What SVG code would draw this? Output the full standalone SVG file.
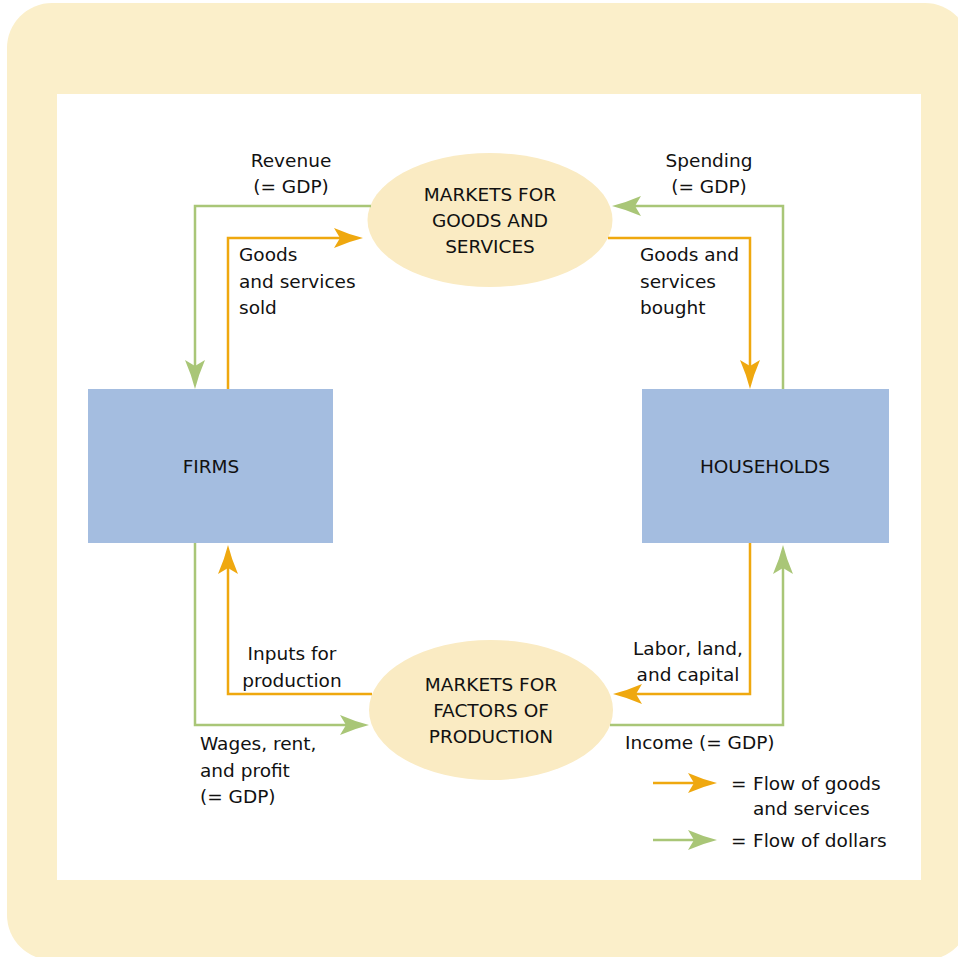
<svg xmlns="http://www.w3.org/2000/svg" width="958" height="957" viewBox="0 0 958 957">
<style>
text{font-family:"DejaVu Sans","Liberation Sans",sans-serif;font-size:18.5px;fill:#111111}
.c{text-anchor:middle}
.box{fill:#A4BDE0}
.ell{fill:#FAEBC3}
.o{fill:none;stroke:#EFA80F;stroke-width:2.5}
.g{fill:none;stroke:#A9C677;stroke-width:2.5}
</style>
<defs>
<marker id="ao" viewBox="-30 -11 32 22" markerWidth="32" markerHeight="22" refX="-22" refY="0" markerUnits="userSpaceOnUse" orient="auto">
<path d="M0,0 Q-14,-3.5 -29,-10 L-23,0 L-29,10 Q-14,3.5 0,0 Z" fill="#EFA80F"/>
</marker>
<marker id="ag" viewBox="-30 -11 32 22" markerWidth="32" markerHeight="22" refX="-22" refY="0" markerUnits="userSpaceOnUse" orient="auto">
<path d="M0,0 Q-14,-3.5 -29,-10 L-23,0 L-29,10 Q-14,3.5 0,0 Z" fill="#A9C677"/>
</marker>
</defs>
<rect x="7" y="3" width="963" height="957" rx="45" fill="#FBEFCA"/>
<rect x="57" y="94" width="864" height="786" fill="#FFFFFF"/>

<g id="markets-goods">
<ellipse class="ell" cx="490" cy="220" rx="122.5" ry="67"/>
<text class="c" x="490" y="201">MARKETS FOR</text>
<text class="c" x="490" y="227">GOODS AND</text>
<text class="c" x="490" y="253">SERVICES</text>
</g>
<g id="markets-factors">
<ellipse class="ell" cx="491" cy="710" rx="122" ry="70"/>
<text class="c" x="491" y="691">MARKETS FOR</text>
<text class="c" x="491" y="717">FACTORS OF</text>
<text class="c" x="491" y="743">PRODUCTION</text>
</g>
<g id="firms">
<rect class="box" x="88" y="389" width="245" height="154"/>
<text class="c" x="211" y="473">FIRMS</text>
</g>
<g id="households">
<rect class="box" x="642" y="389" width="247" height="154"/>
<text class="c" x="765" y="473">HOUSEHOLDS</text>
</g>

<g id="connectors">
<path class="g" d="M371,206 H195 V367" marker-end="url(#ag)"/>
<path class="o" d="M228,389 V238 H341" marker-end="url(#ao)"/>
<path class="g" d="M783,389 V206 H634" marker-end="url(#ag)"/>
<path class="o" d="M608,238 H750 V367" marker-end="url(#ao)"/>
<path class="o" d="M372,694 H228 V567" marker-end="url(#ao)"/>
<path class="g" d="M195,543 V725 H347" marker-end="url(#ag)"/>
<path class="o" d="M750,543 V694 H635" marker-end="url(#ao)"/>
<path class="g" d="M610,725 H783 V567" marker-end="url(#ag)"/>
</g>

<g id="labels">
<text class="c" x="291" y="167">Revenue</text>
<text class="c" x="291" y="193">(= GDP)</text>
<text class="c" x="709" y="167">Spending</text>
<text class="c" x="709" y="193">(= GDP)</text>
<text x="239" y="261">Goods</text>
<text x="239" y="288">and services</text>
<text x="239" y="314">sold</text>
<text x="640" y="261">Goods and</text>
<text x="640" y="288">services</text>
<text x="640" y="314">bought</text>
<text class="c" x="292" y="660">Inputs for</text>
<text class="c" x="292" y="687">production</text>
<text x="200" y="750">Wages, rent,</text>
<text x="200" y="777">and profit</text>
<text x="200" y="803">(= GDP)</text>
<text class="c" x="688" y="655">Labor, land,</text>
<text class="c" x="688" y="681">and capital</text>
<text x="625" y="749">Income (= GDP)</text>
</g>

<g id="legend">
<path class="o" d="M653,783 H695" marker-end="url(#ao)"/>
<text x="731" y="790">=</text>
<text x="753" y="790">Flow of goods</text>
<text x="753" y="815">and services</text>
<path class="g" d="M653,840 H695" marker-end="url(#ag)"/>
<text x="731" y="847">=</text>
<text x="753" y="847">Flow of dollars</text>
</g>
</svg>
